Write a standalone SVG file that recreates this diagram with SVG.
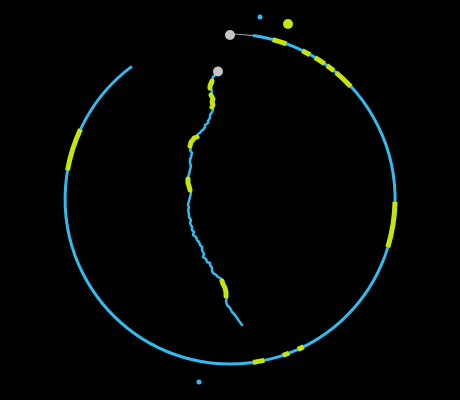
<svg xmlns="http://www.w3.org/2000/svg" width="460" height="400" viewBox="0 0 460 400">
<style>
.bg{fill:#000}
.blue{fill:none;stroke:#33bbee;stroke-width:3}
.ylw{fill:none;stroke:#c5e50f;stroke-width:5}
.walk{fill:none;stroke:#33bbee;stroke-width:2.5;stroke-linejoin:round;stroke-linecap:round}
.walky{fill:none;stroke:#c5e50f;stroke-width:5;stroke-linejoin:round;stroke-linecap:round}
.gline{fill:none;stroke:#8a9aa5;stroke-width:1.2}
.gray{fill:#c4c4c4}
.bdot{fill:#33bbee}
.ydot{fill:#c5e50f}
</style>
<rect class="bg" x="0" y="0" width="460" height="400"/>
<g id="connectors">
<path class="gline" d="M230,34 A165,165 0 0 1 253,35.6"/>
<path class="blue" d="M253,35.6 A165,165 0 1 1 131.9,66.4"/>
<path class="ylw" d="M272.7,39.6 A165,165 0 0 1 286.4,43.95"/>
<path class="ylw" d="M302.3,50.7 A165,165 0 0 1 310,54.7"/>
<path class="ylw" d="M315,57.6 A165,165 0 0 1 324.6,63.8"/>
<path class="ylw" d="M327,65.5 A165,165 0 0 1 333.8,70.8"/>
<path class="ylw" d="M336.1,72.6 A165,165 0 0 1 350.7,86.5"/>
<path class="ylw" d="M395,201.9 A165,165 0 0 1 387.8,247.2"/>
<path class="ylw" d="M303.6,346.7 A165,165 0 0 1 297.9,349.4"/>
<path class="ylw" d="M289.1,353 A165,165 0 0 1 282.9,355.3"/>
<path class="ylw" d="M264.3,360.4 A165,165 0 0 1 253,362.4"/>
<path class="ylw" d="M67.5,170.4 A165,165 0 0 1 80.5,129.3"/>
<path class="walk" d="M216,74 L213,77 L212,80 L213,83 L210,86 L210,88 L212,91 L211,95 L213,99 L212,102 L213,105 L212,107 L213,110 L212,112 L210,115 L210,118 L208,121 L208,123 L205,125 L205,127 L203,130 L201,131 L200,133 L198,134 L197,137 L194,138 L193,140 L191,142 L190,145 L191,148 L190,150 L192,153 L191,157 L190,160 L190,163 L191,166 L190,170 L189,174 L188,178 L188,183 L189,186 L190,190 L191,193 L190,197 L189,201 L188,205 L189,208 L188,210 L189,214 L189,217 L191,220 L190,223 L192,227 L192,230 L194,232 L193,235 L196,237 L197,240 L199,242 L200,245 L202,247 L202,250 L204,254 L203,257 L206,259 L207,262 L210,263 L210,265 L212,268 L212,271 L213,273 L216,275 L218,277 L220,278 L222,280 L223,284 L225,288 L226,292 L227,297 L226,301 L227,305 L230,308 L232,312 L235,315 L237,318 L239,321 L242,325"/>
<path class="walky" d="M212,81 L210,86 L210,88"/>
<path class="walky" d="M211,95 L213,99 L212,102 L213,105 L212,107"/>
<path class="walky" d="M197,137 L194,138 L193,140 L191,142 L190,146"/>
<path class="walky" d="M188,179 L188,183 L189,186 L190,190"/>
<path class="walky" d="M222,281 L223,284 L225,288 L226,292 L226,296"/>
</g>
<g id="node-top"><circle class="gray" cx="230" cy="35" r="5"/></g>
<g id="node-walk-start"><circle class="gray" cx="218" cy="71.5" r="5"/></g>
<g id="node-blue-top"><circle class="bdot" cx="260" cy="17" r="2.5"/></g>
<g id="node-yellow-top"><circle class="ydot" cx="288" cy="24" r="5"/></g>
<g id="node-blue-bottom"><circle class="bdot" cx="199" cy="382" r="2.5"/></g>
</svg>
